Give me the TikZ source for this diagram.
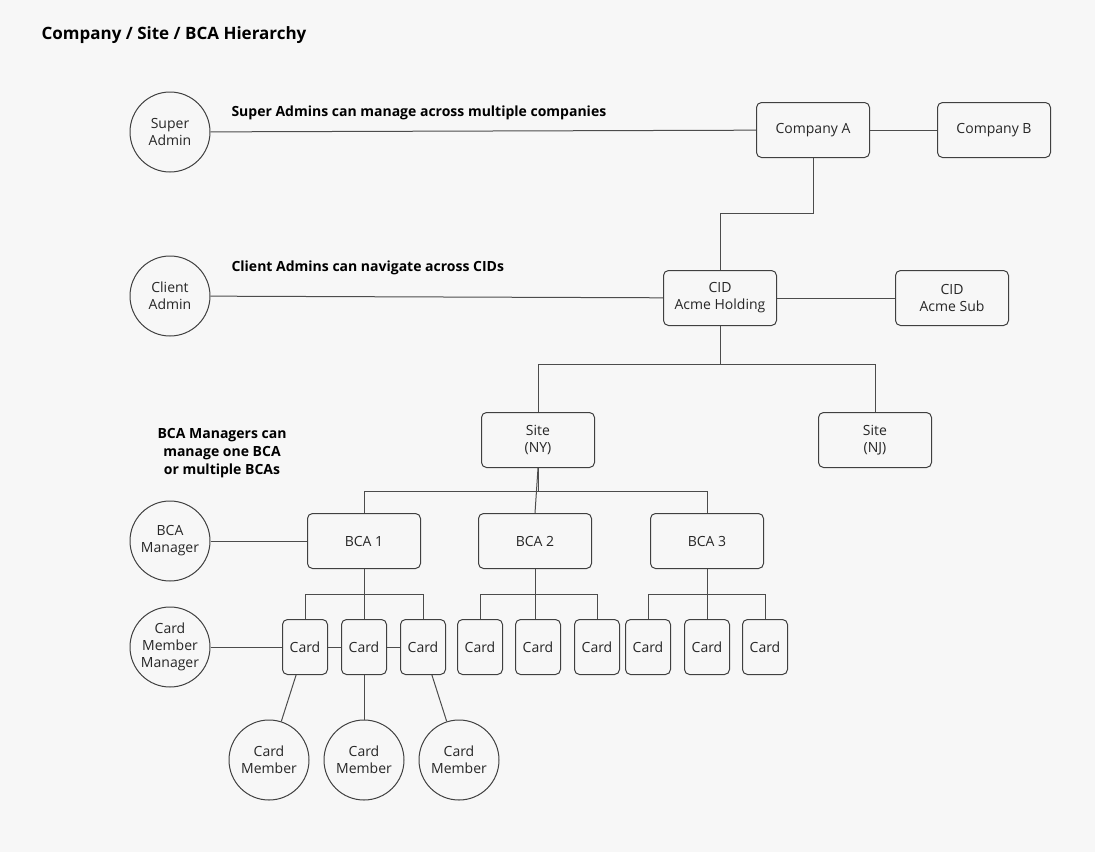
\documentclass[tikz,border=0pt]{standalone}
\usepackage{fontspec}
\setmainfont{Open Sans}
\begin{document}
\begin{tikzpicture}[x=1pt,y=-1pt,
  every node/.style={font=\fontsize{14}{17}\selectfont, text=black!85},
  box/.style={draw=black!75, line width=1pt, rounded corners=5pt, fill=white!97!black, minimum width=113pt, minimum height=55pt, align=center},
  card/.style={box, minimum width=45pt},
  circ/.style={draw=black!75, line width=1pt, circle, fill=white!97!black, minimum size=80pt, inner sep=0pt, align=center},
  ln/.style={draw=black!70, line width=1pt},
  lbl/.style={font=\fontsize{14}{18}\selectfont\bfseries, text=black}]
\fill[black!3] (0,0) rectangle (1095,852);
\useasboundingbox (0,0) rectangle (1095,852);
\node[lbl, anchor=west, font=\fontsize{17}{20}\selectfont\bfseries] (title) at (38,35) {Company / Site / BCA Hierarchy};
\node[lbl, anchor=west] (l1) at (228,113) {Super Admins can manage across multiple companies};
\node[lbl, anchor=west] (l2) at (228,268) {Client Admins can navigate across CIDs};
\node[lbl, align=center] (l3) at (222,453) {BCA Managers can\\manage one BCA\\or multiple BCAs};

\node[circ] (sa) at (170,132) {Super\\Admin};
\node[circ] (ca) at (170,296) {Client\\Admin};
\node[circ] (bm) at (170,541) {BCA\\Manager};
\node[circ] (cmm) at (170,647) {Card\\Member\\Manager};
\node[circ] (m1) at (269,760) {Card\\Member};
\node[circ] (m2) at (364,760) {Card\\Member};
\node[circ] (m3) at (459,760) {Card\\Member};

\node[box] (coa) at (813,130) {Company A};
\node[box] (cob) at (994,130) {Company B};
\node[box] (cid) at (720,298) {CID\\Acme Holding};
\node[box] (sub) at (952,298) {CID\\Acme Sub};
\node[box] (ny) at (538,440) {Site\\(NY)};
\node[box] (nj) at (875,440) {Site\\(NJ)};
\node[box] (b1) at (364,541) {BCA 1};
\node[box] (b2) at (535,541) {BCA 2};
\node[box] (b3) at (707,541) {BCA 3};
\foreach \n/\x in {c1/305,c2/364,c3/423,c4/480,c5/538,c6/597,c7/648,c8/707,c9/765}
  \node[card] (\n) at (\x,647) {Card};

\draw[ln] (sa) -- (coa);
\draw[ln] (coa) -- (cob);
\draw[ln] (coa.south) -- ++(0,55) -| (cid.north);
\draw[ln] (ca) -- (cid);
\draw[ln] (cid) -- (sub);
\draw[ln] (cid.south) -- ++(0,38) -| (ny.north);
\draw[ln] (cid.south) -- ++(0,38) -| (nj.north);
\draw[ln] (ny.south) -- ++(0,23) -| (b1.north);
\draw[ln] (ny.south) -- ++(0,23) -| (b3.north);
\draw[ln] (ny.south) -- (b2.north);
\draw[ln] (bm) -- (b1);
\draw[ln] (b1.south) -- ++(0,25) -| (c1.north);
\draw[ln] (b1.south) -- ++(0,25) -| (c3.north);
\draw[ln] (b1.south) -- (c2.north);
\draw[ln] (b2.south) -- ++(0,25) -| (c4.north);
\draw[ln] (b2.south) -- ++(0,25) -| (c6.north);
\draw[ln] (b2.south) -- (b2.south |- c5.north);
\draw[ln] (b3.south) -- ++(0,25) -| (c7.north);
\draw[ln] (b3.south) -- ++(0,25) -| (c9.north);
\draw[ln] (b3.south) -- (c8.north);
\draw[ln] (cmm) -- (c1);
\draw[ln] (c1) -- (c2);
\draw[ln] (c2) -- (c3);
\draw[ln] (c1) -- (m1);
\draw[ln] (c2) -- (m2);
\draw[ln] (c3) -- (m3);
\end{tikzpicture}
\end{document}
